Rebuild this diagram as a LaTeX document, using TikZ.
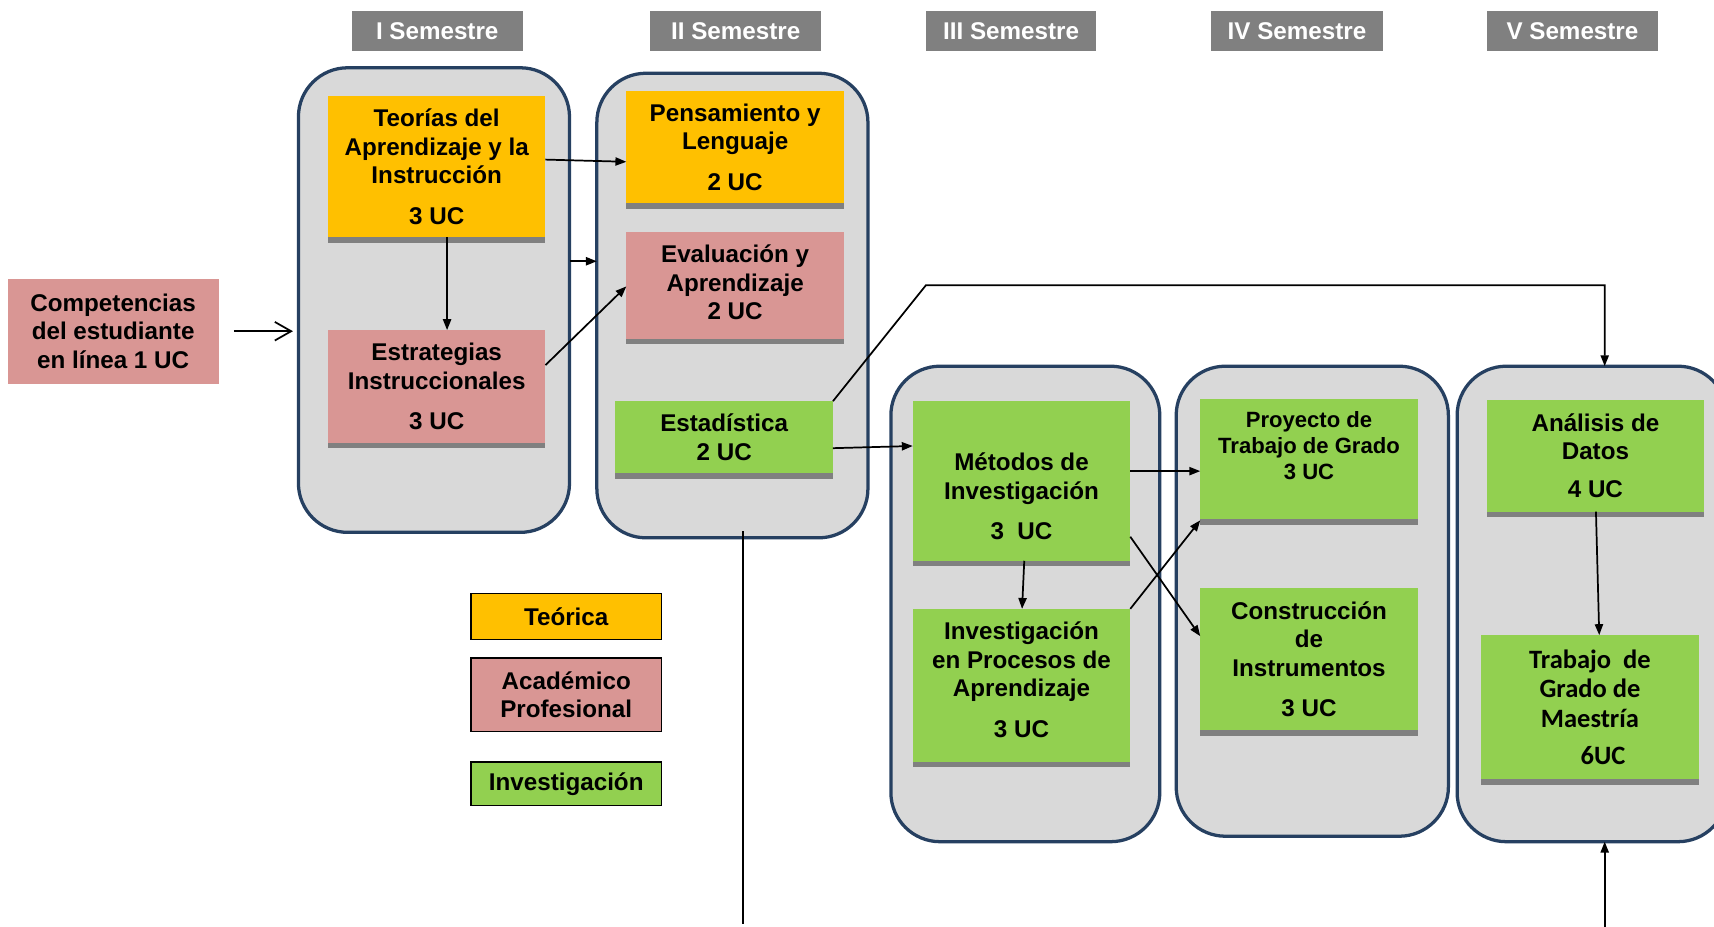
\documentclass[tikz,border=0pt]{standalone}
\usepackage{fontspec}
\setmainfont{Liberation Sans}
\newfontfamily\carlito{Carlito}
\usetikzlibrary{arrows.meta,fit}
\definecolor{orangeT}{RGB}{255,192,0}
\definecolor{pinkA}{RGB}{217,150,148}
\definecolor{greenI}{RGB}{146,208,80}
\definecolor{semfill}{RGB}{217,217,217}
\definecolor{semline}{RGB}{38,64,97}
\definecolor{hdrgray}{RGB}{128,128,128}
\definecolor{shd}{RGB}{128,128,128}
\begin{document}
\begin{tikzpicture}[x=0.02cm,y=-0.02cm,
  sem/.style={draw=semline, line width=1.7pt, fill=semfill, rounded corners=0.9cm, inner sep=0pt, outer sep=0pt},
  hdr/.style={fill=hdrgray, inner sep=0pt, outer sep=0pt},
  hdrtxt/.style={text=white, inner sep=0pt, font=\bfseries\fontsize{12.6}{14.8}\selectfont},
  course/.style={inner sep=0pt, outer sep=0pt},
  txt/.style={align=center, font=\bfseries\fontsize{12.6}{14.8}\selectfont, inner sep=0pt},
  smalltxt/.style={align=center, font=\bfseries\fontsize{11.5}{13.6}\selectfont, inner sep=0pt},
  caltxt/.style={align=center, font=\carlito\bfseries\fontsize{13.8}{15.3}\selectfont, inner sep=0pt},
  leg/.style={draw=black, line width=0.8pt, inner sep=0pt, outer sep=0pt},
  arr/.style={line width=0.9pt, -{Triangle[length=0.2cm,width=0.15cm]}},
  openarr/.style={line width=0.9pt, -{Straight Barb[length=0.3cm,width=0.34cm]}},
  plainline/.style={line width=0.9pt},
  shadow/.style={fill=shd},
]
\clip (0,0) rectangle (1568,848);
\fill[white] (0,0) rectangle (1568,848);

% semester headers
\node[hdr, fit={(322,10)(478,47)}] (h1) {};
\node[hdrtxt] (h1T) at (h1.center) {I Semestre};
\node[hdr, fit={(595,10)(751,47)}] (h2) {};
\node[hdrtxt] (h2T) at (h2.center) {II Semestre};
\node[hdr, fit={(847,10)(1003,47)}] (h3) {};
\node[hdrtxt] (h3T) at (h3.center) {III Semestre};
\node[hdr, fit={(1108,10)(1265,47)}] (h4) {};
\node[hdrtxt] (h4T) at (h4.center) {IV Semestre};
\node[hdr, fit={(1360,10)(1517,47)}] (h5) {};
\node[hdrtxt] (h5T) at (h5.center) {V Semestre};

% semester containers
\node[sem, fit={(273,62)(521,487)}] (s1) {};
\node[sem, fit={(546,67)(794,492)}] (s2) {};
\node[sem, fit={(815,335)(1061,770)}] (s3) {};
\node[sem, fit={(1076,335)(1325,765)}] (s4) {};
\node[sem, fit={(1333,335)(1580,770)}] (s5) {};

% competencias
\node[course, fill=pinkA, fit={(7,255)(200,351)}] (comp) {};
\node[txt] (compT) at (comp.center) {Competencias\\del estudiante\\en línea 1 UC};

% semester I
\node[course, fill=orangeT, fit={(300,88)(499,217)}] (teo) {};
\fill[shadow] (teo.south west) rectangle ([yshift=-0.1cm]teo.south east);
\node[txt] (teoT) at (teo.center) {Teorías del\\Aprendizaje y la\\Instrucción\\[6.3pt]3 UC};

\node[course, fill=pinkA, fit={(300,302)(499,405)}] (estr) {};
\fill[shadow] (estr.south west) rectangle ([yshift=-0.1cm]estr.south east);
\node[txt] (estrT) at (estr.center) {Estrategias\\Instruccionales\\[6.3pt]3 UC};

% semester II
\node[course, fill=orangeT, fit={(573,83)(772,186)}] (pen) {};
\fill[shadow] (pen.south west) rectangle ([yshift=-0.1cm]pen.south east);
\node[txt] (penT) at (pen.center) {Pensamiento y\\Lenguaje\\[6.3pt]2 UC};

\node[course, fill=pinkA, fit={(573,212)(772,310)}] (eval) {};
\fill[shadow] (eval.south west) rectangle ([yshift=-0.1cm]eval.south east);
\node[txt] (evalT) at ([yshift=0.05cm]eval.center) {Evaluación y\\Aprendizaje\\2 UC};

\node[course, fill=greenI, fit={(563,367)(762,433)}] (esta) {};
\fill[shadow] (esta.south west) rectangle ([yshift=-0.1cm]esta.south east);
\node[txt] (estaT) at (esta.center) {Estadística\\2 UC};

% semester III
\node[course, fill=greenI, fit={(835,367)(1034,513)}] (met) {};
\fill[shadow] (met.south west) rectangle ([yshift=-0.1cm]met.south east);
\node[txt] (metT) at ([yshift=-0.28cm]met.center) {Métodos de\\Investigación\\[6pt]3~~UC};

\node[course, fill=greenI, fit={(835,557)(1034,697)}] (inv) {};
\fill[shadow] (inv.south west) rectangle ([yshift=-0.1cm]inv.south east);
\node[txt] (invT) at ([yshift=0.1cm]inv.center) {Investigación\\en Procesos de\\Aprendizaje\\[6.3pt]3 UC};

% semester IV
\node[course, fill=greenI, fit={(1098,365)(1297,475)}] (proy) {};
\fill[shadow] (proy.south west) rectangle ([yshift=-0.1cm]proy.south east);
\node[smalltxt] (proyT) at ([yshift=0.24cm]proy.center) {Proyecto de\\Trabajo de Grado\\3 UC};

\node[course, fill=greenI, fit={(1098,538)(1297,668)}] (cons) {};
\fill[shadow] (cons.south west) rectangle ([yshift=-0.1cm]cons.south east);
\node[txt] (consT) at (cons.center) {Construcción\\de\\Instrumentos\\[6.3pt]3 UC};

% semester V
\node[course, fill=greenI, fit={(1360,366)(1559,468)}] (ana) {};
\fill[shadow] (ana.south west) rectangle ([yshift=-0.1cm]ana.south east);
\node[txt] (anaT) at (ana.center) {Análisis de\\Datos\\[5pt]4 UC};

\node[course, fill=greenI, fit={(1355,581)(1554,713)}] (tg) {};
\fill[shadow] (tg.south west) rectangle ([yshift=-0.1cm]tg.south east);
\node[caltxt] (tgT) at (tg.center) {Trabajo~~de\\Grado de\\Maestría\\[4pt]\hspace*{0.48cm}6UC};

% legend
\node[leg, fill=orangeT, fit={(431,543)(605,585)}] (l1) {};
\node[txt] (l1T) at (l1.center) {Teórica};
\node[leg, fill=pinkA, fit={(431,602)(605,669)}] (l2) {};
\node[txt] (l2T) at (l2.center) {Académico\\Profesional};
\node[leg, fill=greenI, fit={(431,697)(605,737)}] (l3) {};
\node[txt] (l3T) at (l3.center) {Investigación};

% connectors
\draw[openarr, shorten <=0.28cm, shorten >=0.1cm] (comp.east) -- (comp.east -| s1.west);
\draw[arr] (teo.east |- 0,146) -- (pen.west |- 0,148);
\draw[arr] (409,0 |- teo.south) -- (409,0 |- estr.north);
\draw[arr] (s1.east |- 0,239) -- (s2.west |- 0,239);
\draw[arr] (estr.east |- 0,334) -- (eval.west |- 0,262);
\coordinate (k1) at (847,261);
\coordinate (k2) at (1468,261);
\draw[arr] (esta.north east) -- (k1) -- (k2) -- (k2 |- s5.north);
\draw[arr] (esta.east |- 0,410) -- (met.west |- 0,408);
\draw[arr] (met.east |- 0,431) -- (proy.west |- 0,431);
\draw[arr] (met.east |- 0,491) -- (cons.west |- 0,582);
\draw[arr] (inv.north east) -- ([yshift=-0.02cm]proy.south west);
\draw[arr] (937,0 |- met.south) -- (935,0 |- inv.north);
\draw[arr] (1460,0 |- ana.south) -- (1463,0 |- tg.north);
\coordinate (vbot) at (680,845);
\draw[plainline] ([yshift=0.12cm]s2.south -| vbot) -- (vbot);
\coordinate (vb2) at (1468,850);
\draw[arr] (vb2) -- (vb2 |- s5.south);
\end{tikzpicture}
\end{document}
